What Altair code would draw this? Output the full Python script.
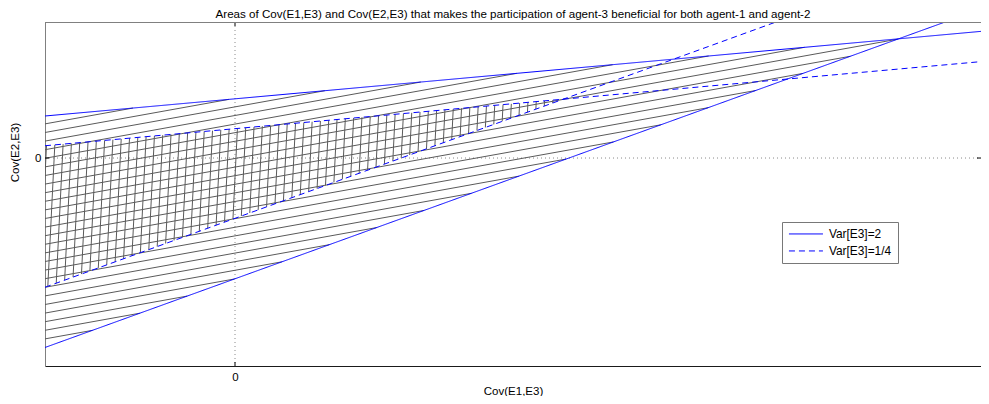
import altair as alt
import pandas as pd

TITLE = ("Areas of Cov(E1,E3) and Cov(E2,E3) that makes the participation "
         "of agent-3 beneficial for both agent-1 and agent-2")
X_LABEL = "Cov(E1,E3)"
Y_LABEL = "Cov(E2,E3)"

# axis ranges (data units)
x_domain = [-1.0, 3.926]
y_domain = [-2.0, 1.308]
tick_values = [0]

# boundary lines, each given by its two end points
series = ["Var[E3]=2", "Var[E3]=2", "Var[E3]=1/4", "Var[E3]=1/4"]
edge = ["upper", "lower", "upper", "lower"]
x_start = [-1.0, -1.0, -1.0, -1.0]
y_start = [0.404, -1.822, 0.118, -1.243]
x_end = [3.963, 3.737, 3.963, 2.847]
y_end = [1.224, 1.308, 0.933, 1.308]

# hatch pattern styling
HATCH_SLOPE = 0.329      # slope of the grey hatch lines (data units)
HATCH_STEP = 0.0827      # vertical spacing of grey hatch lines
CROSS_STEP = 8.3 / 190   # spacing of the vertical cross-hatch lines
CROSS_TILT = 0.027       # slight lean of the vertical cross-hatch lines

W, H = 936, 344
FONT = "Liberation Sans"
BLUE = "#0000ff"
GREY = "#5a5a5a"


def coef(i):
    b = (y_end[i] - y_start[i]) / (x_end[i] - x_start[i])
    return y_start[i], b


# --- boundary lines table
rows = []
for i in range(4):
    rows.append(dict(series=series[i], key=f"{series[i]}-{edge[i]}", x=x_start[i], y=y_start[i], o=0))
    rows.append(dict(series=series[i], key=f"{series[i]}-{edge[i]}", x=x_end[i], y=y_end[i], o=1))
lines_df = pd.DataFrame(rows)

# --- grey hatch lines filling the Var[E3]=2 region
ua, ub = coef(0)
la, lb = coef(1)
hatch = []
k = 1
while la + k * HATCH_STEP < ua:
    y0 = la + k * HATCH_STEP
    d_up = (ua - y0) / (HATCH_SLOPE - ub)
    d_lo = (y0 - la) / (lb - HATCH_SLOPE)
    d = min(d_up, d_lo)
    hatch.append(dict(x=-1.0, y=y0, x2=-1.0 + d, y2=y0 + HATCH_SLOPE * d))
    k += 1
hatch_df = pd.DataFrame(hatch)

# --- vertical cross-hatch lines in the Var[E3]=1/4 region
da, db = coef(2)
ea, eb = coef(3)
cross_d = (da - ea) / (eb - db)
cross = []
k = 0
while True:
    d0 = (1.5 / 190) + k * CROSS_STEP
    if d0 >= cross_d:
        break
    x0 = -1.0 + d0
    ytop = da + db * d0
    ybot = (ea + eb * d0 - eb * CROSS_TILT * ytop) / (1 - eb * CROSS_TILT)
    xbot = x0 + CROSS_TILT * (ybot - ytop)
    cross.append(dict(x=x0, y=ytop, x2=xbot, y2=ybot))
    k += 1
cross_df = pd.DataFrame(cross)

xs = alt.Scale(domain=x_domain, nice=False, zero=False)
ys = alt.Scale(domain=y_domain, nice=False, zero=False)

zero_df = pd.DataFrame({"v": tick_values})

x_axis = alt.Axis(values=tick_values, ticks=False, grid=False, domainColor="#1a1a1a",
                  labelFont=FONT, labelFontSize=11.5, labelColor="black", labelPadding=5,
                  title=X_LABEL, titleFont=FONT, titleFontSize=11.5, titleFontWeight="normal",
                  titleColor="black", titlePadding=2.5)
y_axis = alt.Axis(values=tick_values, ticks=False, grid=False, domainColor="#808080",
                  labelFont=FONT, labelFontSize=11.5, labelColor="black", labelPadding=4,
                  title=Y_LABEL, titleFont=FONT, titleFontSize=11.5, titleFontWeight="normal",
                  titleColor="black", titleX=-30, titleY=130, titleBaseline="middle",
                  titleAngle=270)


def X(field):
    return alt.X(field, type="quantitative", scale=xs, axis=x_axis)


def Y(field):
    return alt.Y(field, type="quantitative", scale=ys, axis=y_axis)


base_zero = alt.Chart(zero_df)

vdot = base_zero.mark_rule(color="#8a8a8a", strokeDash=[1, 3], strokeWidth=1).encode(
    x=X("v"), y=alt.value(0), y2=alt.value(H))
hdot = base_zero.mark_rule(color="#8a8a8a", strokeDash=[1, 3], strokeWidth=1).encode(
    y=Y("v"), x=alt.value(0), x2=alt.value(W))

hatch_layer = alt.Chart(hatch_df).mark_rule(color=GREY, strokeWidth=1, clip=True).encode(
    x=X("x"), y=Y("y"), x2="x2:Q", y2="y2:Q")
cross_layer = alt.Chart(cross_df).mark_rule(color=GREY, strokeWidth=1, clip=True).encode(
    x=X("x"), y=Y("y"), x2="x2:Q", y2="y2:Q")

legend = alt.Legend(title=None, orient="none", legendX=737, legendY=200,
                    symbolType="M-1,0H5.8", symbolSize=100, symbolStrokeWidth=1,
                    symbolStrokeColor=BLUE, symbolFillColor="transparent",
                    labelFont=FONT, labelFontSize=11.9, labelColor="black", labelOffset=29,
                    padding=6, rowPadding=4, strokeColor="#787878", fillColor="white",
                    cornerRadius=0)

bound_layer = alt.Chart(lines_df).mark_line(color=BLUE, strokeWidth=1, clip=True).encode(
    x=X("x"),
    y=Y("y"),
    detail="key:N",
    order="o:Q",
    strokeDash=alt.StrokeDash("series:N",
                              scale=alt.Scale(domain=["Var[E3]=2", "Var[E3]=1/4"],
                                              range=[[1, 0], [6, 4]]),
                              legend=legend))

# inward tick marks at 0 on all four sides, and the top border
tick_bottom = base_zero.mark_rule(color="black").encode(
    x=X("v"), y=alt.value(H), y2=alt.value(H - 4))
tick_top = base_zero.mark_rule(color="black").encode(
    x=X("v"), y=alt.value(0), y2=alt.value(4))
tick_left = base_zero.mark_rule(color="black").encode(
    y=Y("v"), x=alt.value(0), x2=alt.value(4))
tick_right = base_zero.mark_rule(color="black").encode(
    y=Y("v"), x=alt.value(W), x2=alt.value(W - 4))
top_border = base_zero.mark_rule(color="#808080").encode(
    x=alt.value(0), x2=alt.value(W), y=alt.value(0.5))

chart = alt.layer(
    vdot, hdot, hatch_layer, cross_layer, bound_layer,
    tick_bottom, tick_top, tick_left, tick_right, top_border
).properties(
    width=W, height=H,
    title=alt.TitleParams(TITLE, font=FONT, fontSize=11.6, fontWeight="normal", color="black",
                          anchor="middle", frame="group", baseline="alphabetic", offset=0,
                          dy=8),
    autosize=alt.AutoSizeParams(type="none"),
    padding={"left": 37, "top": 14, "right": 0, "bottom": 30},
).configure_view(stroke="transparent").configure(background="white")

chart.save("out.html", embed_options={"renderer": "svg", "actions": False})
